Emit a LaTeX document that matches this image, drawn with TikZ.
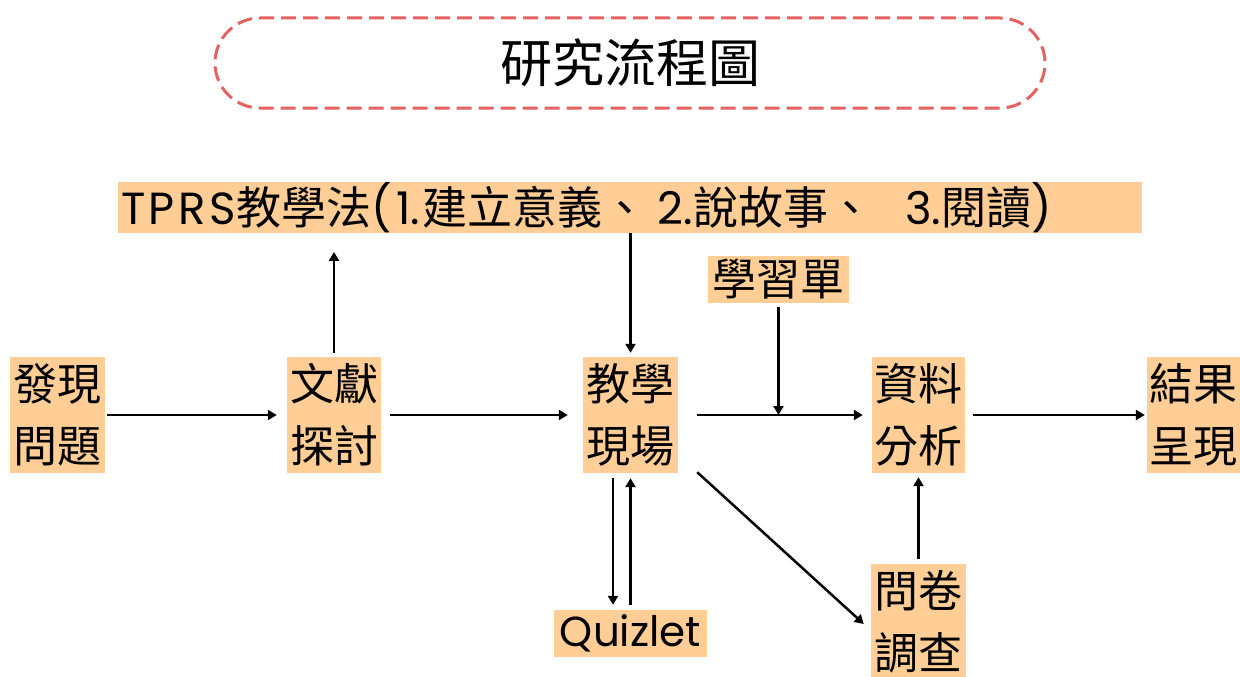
\documentclass[tikz,border=0pt]{standalone}
\usepackage{fontspec}
\newfontfamily\cjk{Noto Sans CJK TC}
\newfontfamily\lat{Poppins}
\usetikzlibrary{arrows.meta}
\definecolor{peach}{RGB}{255,206,150}
\definecolor{dashred}{RGB}{228,98,98}
\begin{document}
\begin{tikzpicture}[x=1pt,y=-1pt,
  box/.style={fill=peach, inner sep=0pt, align=center, minimum width=94pt, minimum height=116pt, font=\cjk\fontsize{44}{62}\selectfont},
  tag/.style={fill=peach, inner sep=0pt, minimum height=47pt, font=\cjk\fontsize{44}{50}\selectfont},
  arr/.style={line width=2.5pt, -{Triangle[width=10pt,length=9pt]}}]
\useasboundingbox (0,0) rectangle (1240,677);
\fill[white] (0,0) rectangle (1240,677);
% title
\node[draw=dashred, line width=3pt, dash pattern=on 15pt off 7pt, rounded corners=45pt,
      minimum width=830pt, minimum height=90pt, font=\cjk\fontsize{52}{60}\selectfont] (title) at (630,63) {研究流程圖};
% TPRS bar
\node[fill=peach, minimum width=1024pt, minimum height=47pt, text width=1018pt, inner xsep=3pt, inner ysep=0pt, align=left,
      font=\cjk\fontsize{45}{48}\selectfont] (tprs) at (630,207.5)
      {{\lat T\kern3.5pt P\kern3.5pt R\kern3.5pt S}\kern1pt 教學法{\lat (\kern4pt 1.}\kern3pt 建立意義、\kern10pt{\lat 2.}說故事、\hspace{32pt}{\lat 3.}閱讀{\lat )}};
% main nodes
\node[box, minimum width=95pt] (n1) at (57.5,415) {發現\\問題};
\node[box] (n2) at (334,415) {文獻\\探討};
\node[box, minimum width=95pt] (n3) at (630.5,415) {教學\\現場};
\node[box, minimum width=93pt] (n4) at (918.5,415) {資料\\分析};
\node[box, minimum width=93pt] (n5) at (1193.5,415) {結果\\呈現};
\node[tag, minimum width=141pt] (ws) at (778.5,279.5) {學習單};
\node[tag, minimum width=153pt, font=\lat\fontsize{42}{50}\selectfont] (qz) at (630.5,633.5) {Quizlet};
\node[box, minimum width=95pt] (qs) at (918.5,622) {問卷\\調查};
% arrows
\draw[arr, shorten <=2pt, shorten >=10pt] (n1.east) -- (n2.west);
\draw[arr, shorten <=9pt, shorten >=15pt] (n2.east) -- (n3.west);
\draw[arr, shorten <=19pt, shorten >=9pt] (n3.east) -- (n4.west);
\draw[arr, shorten <=8pt, shorten >=2pt] (n4.east) -- (n5.west);
\coordinate (j) at (ws.south |- n3.east);
\draw[arr, shorten <=4pt] (ws.south) -- (j);
\draw[arr, shorten <=4pt, shorten >=19pt] (n2.north) -- (n2.north |- tprs.south);
\draw[arr, shorten >=4pt] (n3.north |- tprs.south) -- (n3.north);
\draw[arr, shorten <=5pt, shorten >=5pt] ([xshift=-17.5pt]n3.south) -- ([xshift=-17.5pt]n3.south |- qz.north);
\draw[arr, shorten <=5pt, shorten >=5pt] (qz.north) -- (n3.south);
\draw[arr] ([shift={(19pt,1pt)}]n3.south east) -- ([shift={(-7pt,-1pt)}]qs.west |- 0,623);
\draw[arr, shorten <=5pt, shorten >=4pt] (qs.north) -- (n4.south);
\end{tikzpicture}
\end{document}
